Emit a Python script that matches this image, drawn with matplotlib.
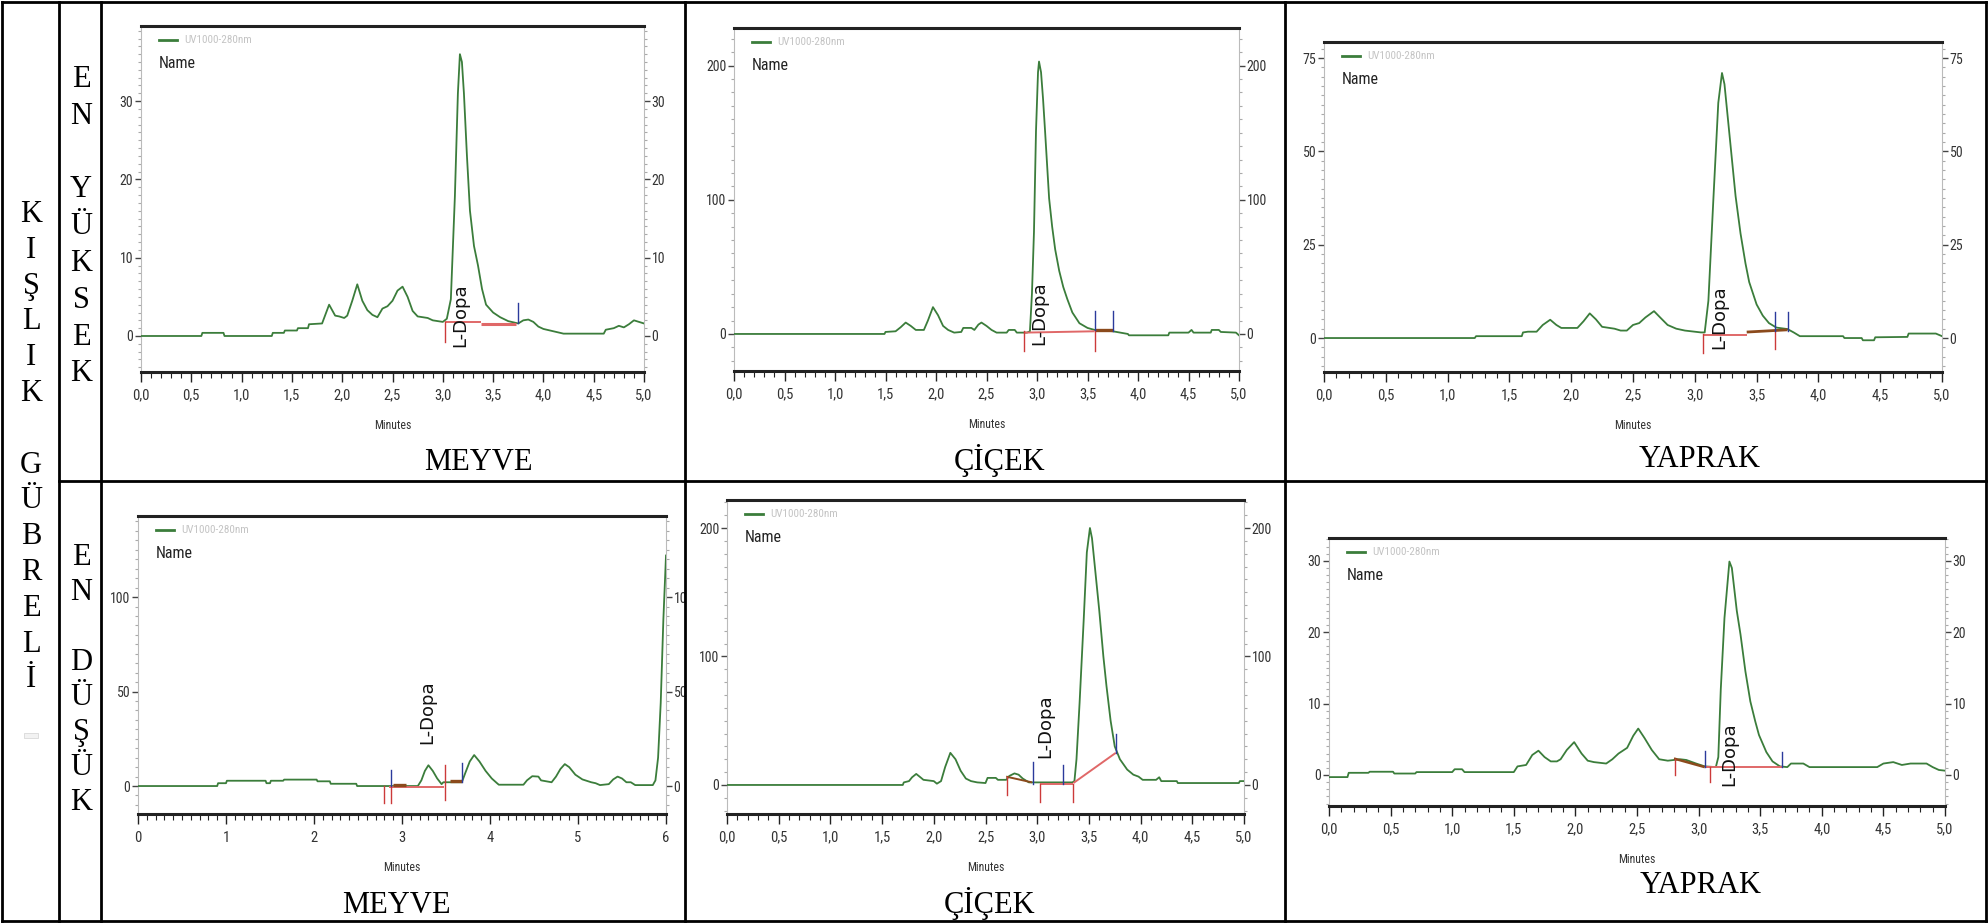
import matplotlib
matplotlib.use("Agg")
import matplotlib.pyplot as plt
from matplotlib import font_manager
from matplotlib.lines import Line2D
from matplotlib.patches import Rectangle
from matplotlib.ticker import MultipleLocator, FuncFormatter

W, H = 1988, 923


def pick_narrow():
    # prefer a narrow sans for the instrument-style labels, fall back to DejaVu
    names = {f.name for f in font_manager.fontManager.ttflist}
    for name in ['Liberation Sans Narrow', 'Roboto Condensed', 'Open Sans Condensed',
                 'DejaVu Sans Condensed', 'Noto Sans Condensed', 'Arial Narrow']:
        if name in names:
            return name, 'normal'
    for st in ['extra-condensed', 'condensed', 'semi-condensed']:
        for f in font_manager.fontManager.ttflist:
            if str(f.stretch) == st and f.style == 'normal' and f.weight in (400, 'normal', 'regular') \
                    and 'Sans' in f.name and 'Mono' not in f.name and 'CJK' not in f.name:
                return f.name, st
    return 'DejaVu Sans', 'normal'


NARROW, STRETCH = pick_narrow()
SERIF = 'Liberation Serif'
plt.rcParams['font.family'] = [NARROW, 'DejaVu Sans']
plt.rcParams['font.stretch'] = STRETCH

GREEN = '#3b7d3b'
RED = '#cc3a3a'
PINK = '#e06868'
BLUE = '#2b3a9c'
BROWN = '#8b4a1c'

# --- chromatogram traces (minutes, mV) ---
t_meyve_hi = [0.0, 0.60, 0.61, 0.82, 0.83, 1.30, 1.31, 1.42, 1.43, 1.55, 1.56, 1.66, 1.67, 1.80,
              1.87, 1.93, 1.97, 2.02, 2.05, 2.10, 2.15, 2.20, 2.25, 2.30, 2.35, 2.40, 2.45, 2.50,
              2.55, 2.60, 2.65, 2.70, 2.75, 2.85, 2.90, 3.00, 3.04, 3.08, 3.12, 3.15, 3.17, 3.19,
              3.21, 3.24, 3.27, 3.31, 3.35, 3.39, 3.43, 3.50, 3.57, 3.65, 3.75, 3.80, 3.85, 3.90,
              3.95, 4.00, 4.10, 4.20, 4.60, 4.62, 4.70, 4.75, 4.80, 4.85, 4.90, 4.95, 5.00]
y_meyve_hi = [0.0, 0.0, 0.4, 0.4, 0.0, 0.0, 0.4, 0.4, 0.7, 0.7, 1.0, 1.0, 1.5, 1.6,
              4.0, 2.6, 2.5, 2.3, 2.6, 4.5, 6.6, 4.5, 3.3, 2.7, 2.4, 3.5, 3.8, 4.5,
              5.8, 6.3, 5.0, 3.2, 2.5, 2.3, 2.0, 1.8, 2.2, 4.7, 17.8, 31.0, 36.0, 35.0,
              31.0, 23.0, 16.0, 11.5, 9.0, 6.0, 4.0, 3.0, 2.4, 1.9, 1.6, 2.0, 2.1, 1.8,
              1.2, 0.9, 0.6, 0.3, 0.3, 0.8, 1.0, 1.3, 1.1, 1.5, 2.0, 1.8, 1.6]

t_cicek_hi = [0.0, 1.49, 1.50, 1.60, 1.65, 1.70, 1.75, 1.80, 1.88, 1.92, 1.97, 2.02, 2.07, 2.12,
              2.18, 2.25, 2.27, 2.35, 2.38, 2.42, 2.45, 2.50, 2.55, 2.60, 2.70, 2.72, 2.78, 2.80,
              2.90, 2.93, 2.95, 2.97, 2.99, 3.01, 3.02, 3.04, 3.06, 3.08, 3.12, 3.15, 3.18, 3.22,
              3.26, 3.30, 3.35, 3.42, 3.50, 3.57, 3.75, 3.90, 3.91, 4.30, 4.31, 4.50, 4.53, 4.55,
              4.72, 4.73, 4.80, 4.82, 4.97, 5.00]
y_cicek_hi = [0.0, 0.0, 1.5, 2.0, 5.0, 8.5, 6.0, 3.0, 3.0, 10.0, 20.0, 14.0, 6.0, 3.0,
              1.0, 1.5, 4.5, 4.5, 3.0, 7.0, 8.5, 6.0, 3.0, 1.0, 1.0, 3.0, 3.0, 1.0,
              1.0, 2.0, 30.0, 76.0, 151.0, 195.0, 203.0, 195.0, 175.0, 151.0, 101.0, 80.0, 63.0, 47.0,
              35.0, 26.0, 16.0, 8.0, 4.5, 3.0, 2.0, 0.0, -1.0, -1.0, 1.0, 1.0, 3.0, 1.0,
              1.0, 3.0, 3.0, 1.5, 1.0, -1.0]

t_yaprak_hi = [0.0, 1.22, 1.23, 1.60, 1.61, 1.65, 1.72, 1.77, 1.83, 1.88, 1.92, 2.05, 2.10, 2.15,
               2.20, 2.25, 2.35, 2.40, 2.45, 2.50, 2.55, 2.60, 2.67, 2.72, 2.78, 2.85, 2.92, 3.05,
               3.08, 3.11, 3.15, 3.19, 3.22, 3.24, 3.27, 3.30, 3.33, 3.37, 3.41, 3.44, 3.50, 3.55,
               3.60, 3.66, 3.75, 3.80, 3.85, 4.20, 4.21, 4.35, 4.36, 4.45, 4.46, 4.72, 4.73, 4.95, 5.00]
y_yaprak_hi = [0.0, 0.0, 0.5, 0.5, 1.5, 1.7, 1.7, 3.5, 4.9, 3.5, 2.7, 2.7, 4.5, 6.6,
               5.0, 3.0, 2.5, 2.0, 2.0, 3.5, 4.0, 5.5, 7.2, 5.5, 3.5, 2.5, 2.0, 1.5,
               1.5, 10.0, 37.0, 63.0, 71.0, 68.0, 58.0, 48.0, 38.0, 28.0, 20.0, 15.0, 9.0, 6.0,
               4.0, 2.8, 2.4, 1.5, 0.5, 0.5, 0.0, 0.0, -0.6, -0.6, 0.2, 0.3, 1.2, 1.2, 0.5]

t_meyve_lo = [0.0, 0.90, 0.91, 1.00, 1.01, 1.45, 1.46, 1.50, 1.51, 1.65, 1.66, 2.03, 2.04, 2.18,
              2.19, 2.48, 2.49, 3.18, 3.22, 3.26, 3.30, 3.35, 3.40, 3.45, 3.47, 3.68, 3.72, 3.77,
              3.82, 3.88, 3.95, 4.02, 4.08, 4.10, 4.38, 4.42, 4.48, 4.55, 4.58, 4.70, 4.75, 4.80,
              4.85, 4.90, 4.97, 5.05, 5.15, 5.20, 5.25, 5.35, 5.40, 5.45, 5.50, 5.55, 5.60, 5.65,
              5.85, 5.88, 5.91, 5.94, 5.97, 6.00]
y_meyve_lo = [0.0, 0.0, 1.5, 1.5, 2.8, 2.8, 1.5, 1.5, 2.8, 2.8, 3.4, 3.4, 2.5, 2.5,
              1.2, 1.2, 0.0, 0.0, 3.0, 8.0, 11.0, 8.0, 4.0, 1.0, 2.0, 2.0, 7.0, 13.0,
              16.4, 13.0, 8.0, 4.0, 1.5, 0.7, 0.7, 3.0, 5.2, 5.0, 3.0, 2.0, 5.0, 9.0,
              11.6, 10.0, 6.0, 3.5, 2.0, 1.5, 0.5, 1.0, 3.5, 5.0, 4.0, 2.0, 2.0, 0.5,
              0.5, 3.0, 15.0, 44.0, 88.0, 122.0]

t_cicek_lo = [0.0, 1.70, 1.71, 1.76, 1.79, 1.83, 1.87, 1.90, 2.00, 2.03, 2.07, 2.11, 2.16, 2.21,
              2.26, 2.31, 2.36, 2.42, 2.50, 2.52, 2.60, 2.62, 2.70, 2.73, 2.78, 2.82, 2.86, 2.92,
              3.34, 3.36, 3.38, 3.41, 3.45, 3.48, 3.51, 3.53, 3.56, 3.60, 3.64, 3.67, 3.71, 3.75,
              3.80, 3.87, 3.93, 3.98, 4.02, 4.15, 4.18, 4.20, 4.35, 4.36, 4.95, 4.96, 5.00]
y_cicek_lo = [0.0, 0.0, 2.0, 3.0, 6.0, 8.6, 6.0, 4.0, 3.0, 1.0, 3.0, 14.0, 25.0, 20.0,
              11.0, 5.0, 3.0, 2.0, 1.5, 5.5, 5.5, 4.0, 4.0, 7.0, 9.0, 8.0, 5.0, 2.0,
              2.0, 3.0, 20.0, 64.0, 129.0, 181.0, 200.0, 192.0, 168.0, 136.0, 100.0, 77.0, 50.0, 30.0,
              20.0, 12.0, 8.0, 6.5, 4.0, 4.0, 6.0, 3.0, 3.0, 1.5, 1.5, 3.0, 3.0]

t_yaprak_lo = [0.0, 0.15, 0.16, 0.32, 0.33, 0.52, 0.53, 0.70, 0.71, 1.00, 1.02, 1.08, 1.10, 1.50,
               1.53, 1.60, 1.65, 1.70, 1.75, 1.80, 1.85, 1.88, 1.93, 1.99, 2.05, 2.10, 2.15, 2.25,
               2.30, 2.35, 2.42, 2.47, 2.51, 2.56, 2.62, 2.68, 2.75, 2.85, 2.90, 2.98, 3.05, 3.14,
               3.16, 3.18, 3.21, 3.25, 3.27, 3.31, 3.34, 3.38, 3.42, 3.46, 3.49, 3.55, 3.60, 3.66,
               3.72, 3.75, 3.85, 3.90, 4.45, 4.50, 4.58, 4.65, 4.72, 4.85, 4.90, 4.95, 5.00]
y_yaprak_lo = [-0.3, -0.3, 0.3, 0.3, 0.45, 0.45, 0.2, 0.2, 0.4, 0.4, 0.8, 0.8, 0.4, 0.4,
               1.2, 1.4, 2.8, 3.4, 2.5, 1.9, 1.9, 2.2, 3.5, 4.6, 3.0, 2.0, 1.8, 1.6,
               2.2, 3.0, 3.8, 5.5, 6.5, 5.2, 3.5, 2.2, 2.0, 2.2, 2.1, 1.6, 1.2, 1.1,
               2.5, 12.0, 22.0, 29.9, 29.0, 23.0, 19.7, 14.5, 10.3, 7.5, 5.6, 3.2, 1.9, 1.2,
               1.1, 1.6, 1.6, 1.1, 1.1, 1.6, 1.8, 1.4, 1.6, 1.6, 1.1, 0.7, 0.6]

# --- integration baselines: (x0, y0, x1, y1, colour, width) ---
base_meyve_hi = [(3.02, 1.8, 3.38, 1.8, PINK, 1.4), (3.38, 1.5, 3.73, 1.5, PINK, 2.2)]
base_cicek_hi = [(2.87, 1.0, 3.57, 2.0, PINK, 1.4), (3.57, 3.0, 3.75, 3.0, BROWN, 2.4)]
base_yaprak_hi = [(3.07, 0.9, 3.42, 0.9, PINK, 1.4), (3.42, 1.6, 3.75, 2.2, BROWN, 2.0)]
base_meyve_lo = [(2.85, -0.5, 3.48, -0.5, PINK, 1.4), (2.90, 0.6, 3.05, 0.6, BROWN, 2.4),
                 (3.55, 2.5, 3.68, 2.5, BROWN, 2.4)]
base_cicek_lo = [(2.70, 6.5, 2.95, 2.0, BROWN, 1.4), (3.03, 1.0, 3.35, 1.0, PINK, 1.4),
                 (3.35, 1.5, 3.76, 25.0, PINK, 1.4)]
base_yaprak_lo = [(2.80, 2.3, 3.05, 1.1, BROWN, 1.8), (3.05, 1.1, 3.68, 1.1, PINK, 1.4)]

# --- peak start/end markers: (x, y0, y1) ---
red_meyve_hi = [(3.02, 1.8, -0.8)]
blue_meyve_hi = [(3.75, 1.6, 4.2)]
red_cicek_hi = [(2.87, 2.0, -13.0), (3.57, 3.0, -13.0)]
blue_cicek_hi = [(3.57, 3.0, 17.0), (3.75, 2.0, 17.0)]
red_yaprak_hi = [(3.07, 1.0, -4.0), (3.65, 2.0, -3.0)]
blue_yaprak_hi = [(3.65, 2.0, 7.0), (3.75, 2.0, 7.0)]
red_meyve_lo = [(2.80, 0.0, -9.0), (2.87, 0.0, -9.0), (3.49, 11.0, -7.4)]
blue_meyve_lo = [(2.87, 0.0, 8.5), (3.68, 2.0, 12.0)]
red_cicek_lo = [(2.71, 6.5, -7.8), (3.03, 1.0, -13.0), (3.35, 1.0, -13.0)]
blue_cicek_lo = [(2.96, 1.0, 18.0), (3.25, 1.0, 15.6), (3.76, 25.0, 40.0)]
red_yaprak_lo = [(2.81, 2.3, 0.0), (3.09, 1.1, -1.0)]
blue_yaprak_lo = [(3.05, 1.1, 3.4), (3.68, 1.1, 3.2)]

# L-Dopa label anchor (x, bottom y)
ldopa_meyve_hi = (3.17, -1.4)
ldopa_cicek_hi = (3.02, -8.0)
ldopa_yaprak_hi = (3.20, -3.0)
ldopa_meyve_lo = (3.29, 22.0)
ldopa_cicek_lo = (3.08, 20.8)
ldopa_yaprak_lo = (3.25, -1.6)

row_words = ['MEYVE', 'ÇİÇEK', 'YAPRAK']

fig = plt.figure(figsize=(W / 100, H / 100), dpi=100)
fig.patch.set_facecolor('white')

narrow_kw = dict(family=[NARROW, 'DejaVu Sans'], stretch=STRETCH)
lab_size = 10 if NARROW != 'DejaVu Sans' else 8.5


def comma_fmt(v, pos):
    return f"{v:.1f}".replace('.', ',')


def panel(box, t, y, ylim, ystep, xmax, xstep, bases, reds, blues, ldopa):
    l, top, r, b = box
    ax = fig.add_axes([l / W, 1 - b / H, (r - l) / W, (b - top) / H])
    ax.plot(t, y, color=GREEN, lw=1.3, zorder=3)
    for x0, y0, x1, y1, c, w in bases:
        ax.plot([x0, x1], [y0, y1], color=c, lw=w, zorder=4, solid_capstyle='butt')
    for x, y0, y1 in reds:
        ax.plot([x, x], [y0, y1], color=RED, lw=1.0, zorder=5)
    for x, y0, y1 in blues:
        ax.plot([x, x], [y0, y1], color=BLUE, lw=1.0, zorder=5)
    ax.text(ldopa[0], ldopa[1], 'L-Dopa', rotation=90, ha='center', va='bottom',
            fontsize=13, family='DejaVu Sans', stretch='normal', color='#111111', zorder=6)

    ax.set_xlim(0, xmax)
    ax.set_ylim(*ylim)
    ax.xaxis.set_major_locator(MultipleLocator(xstep))
    ax.xaxis.set_minor_locator(MultipleLocator(0.1))
    if xstep < 1:
        ax.xaxis.set_major_formatter(FuncFormatter(comma_fmt))
    ax.yaxis.set_major_locator(MultipleLocator(ystep))
    ax.yaxis.set_minor_locator(MultipleLocator(ystep / 10))
    ax.yaxis.set_major_formatter(FuncFormatter(lambda v, p: f"{v:.0f}"))

    ax.tick_params(axis='y', which='both', left=True, right=True,
                   labelleft=True, labelright=True, direction='out')
    ax.tick_params(axis='y', which='major', length=4, width=1, color='#444444',
                   labelsize=lab_size, labelcolor='#333333', pad=1.5)
    ax.tick_params(axis='y', which='minor', length=2, width=0.8, color='#aaaaaa')
    ax.tick_params(axis='x', which='major', length=7, width=1, color='#222222',
                   labelsize=lab_size + 0.5, labelcolor='#333333', pad=5)
    ax.tick_params(axis='x', which='minor', length=4, width=0.8, color='#222222')
    for s in ('top', 'bottom'):
        ax.spines[s].set_linewidth(2.2)
        ax.spines[s].set_color('#222222')
    for s in ('left', 'right'):
        ax.spines[s].set_linewidth(0.8)
        ax.spines[s].set_color('#bbbbbb')

    h = b - top
    w = r - l
    ax.set_xlabel('Minutes', fontsize=lab_size - 1.5, color='#333333')
    ax.xaxis.set_label_coords(0.5, -47 / h)

    # legend block in the upper-left corner
    ax.plot([18 / w, 36 / w], [1 - 14 / h, 1 - 14 / h], transform=ax.transAxes,
            color=GREEN, lw=2, clip_on=False)
    ax.text(43 / w, 1 - 14 / h, 'UV1000-280nm', transform=ax.transAxes,
            fontsize=lab_size - 2, color='#c4c4c4', va='center', ha='left')
    ax.text(18 / w, 1 - 37 / h, 'Name', transform=ax.transAxes,
            fontsize=lab_size + 1.5, color='#222222', va='center', ha='left')
    return ax


panel((141, 26, 644, 372), t_meyve_hi, y_meyve_hi, (-4.6, 39.6), 10, 5, 0.5,
      base_meyve_hi, red_meyve_hi, blue_meyve_hi, ldopa_meyve_hi)
panel((734, 28, 1239, 371), t_cicek_hi, y_cicek_hi, (-27.6, 228), 100, 5, 0.5,
      base_cicek_hi, red_cicek_hi, blue_cicek_hi, ldopa_cicek_hi)
panel((1324, 42, 1942, 372), t_yaprak_hi, y_yaprak_hi, (-9.1, 79.3), 25, 5, 0.5,
      base_yaprak_hi, red_yaprak_hi, blue_yaprak_hi, ldopa_yaprak_hi)
panel((138, 516, 666, 814), t_meyve_lo, y_meyve_lo, (-14.8, 142.9), 50, 6, 1,
      base_meyve_lo, red_meyve_lo, blue_meyve_lo, ldopa_meyve_lo)
panel((727, 500, 1244, 814), t_cicek_lo, y_cicek_lo, (-22.6, 221.8), 100, 5, 0.5,
      base_cicek_lo, red_cicek_lo, blue_cicek_lo, ldopa_cicek_lo)
panel((1329, 538, 1945, 806), t_yaprak_lo, y_yaprak_lo, (-4.35, 33.2), 10, 5, 0.5,
      base_yaprak_lo, red_yaprak_lo, blue_yaprak_lo, ldopa_yaprak_lo)

# right-hand labels of the lower-left chart run into the next cell
fig.add_artist(Rectangle((686 / W, 1 - 840 / H), 11 / W, 340 / H, transform=fig.transFigure,
                         facecolor='white', edgecolor='none', zorder=1))


def ftext(x, y, s, size=22):
    # y is the visual centre of capital letters in pixels from the top
    fig.text(x / W, 1 - (y + 10) / H, s, family=SERIF, stretch='normal', fontsize=size,
             ha='center', va='baseline', color='black')


# chart captions
for word, x, y in zip(row_words, [478, 1000, 1700], [460, 460, 457]):
    ftext(x, y, word)
for word, x, y in zip(row_words, [396, 990, 1701], [903, 903, 883]):
    ftext(x, y, word)

# stacked row/column headings
for i, ch in enumerate('KIŞLIK GÜBRELİ'):
    if ch != ' ':
        ftext(31, 212 + i * 35.8, ch)
for i, ch in enumerate('EN YÜKSEK'):
    if ch != ' ':
        ftext(81, 77 + i * 36.8, ch)
for i, ch in enumerate('EN DÜŞÜK'):
    if ch != ' ':
        ftext(81, 555 + i * 35.0, ch)

fig.add_artist(Rectangle((24 / W, 1 - 738 / H), 14 / W, 5 / H, transform=fig.transFigure,
                         facecolor='#f2f2f2', edgecolor='#d8d8d8', lw=0.6, zorder=1))

# table grid
grid = [((2, 2), (2, 921)), ((1986, 2), (1986, 921)), ((2, 2), (1986, 2)), ((2, 921), (1986, 921)),
        ((59, 2), (59, 921)), ((101, 2), (101, 921)), ((685, 2), (685, 921)),
        ((1285, 2), (1285, 921)), ((59, 481), (1986, 481))]
for (x0, y0), (x1, y1) in grid:
    fig.add_artist(Line2D([x0 / W, x1 / W], [1 - y0 / H, 1 - y1 / H], transform=fig.transFigure,
                          color='black', lw=2.0, zorder=2, solid_capstyle='projecting'))

fig.savefig('out.png', dpi=100, facecolor='white')
